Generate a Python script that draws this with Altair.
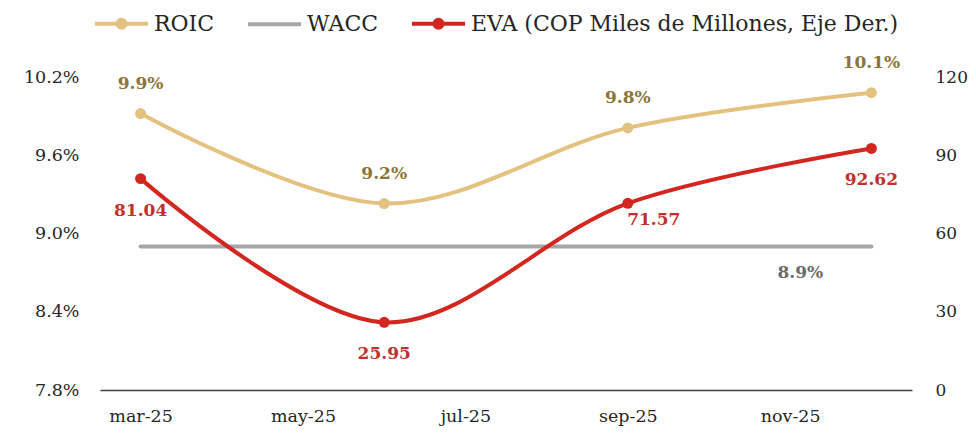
import altair as alt
import pandas as pd

# ---- data ----
months = [3, 6, 9, 12]                      # mar-25, jun-25, sep-25, dic-25
roic = [9.92, 9.23, 9.81, 10.08]            # %
wacc = [8.90, 8.90, 8.90, 8.90]             # %
eva = [81.04, 25.95, 71.57, 92.62]          # COP miles de millones
series_names = ["ROIC", "WACC", "EVA (COP Miles de Millones, Eje Der.)"]
tick_months = [3, 5, 7, 9, 11]
tick_labels = ["mar-25", "may-25", "jul-25", "sep-25", "nov-25"]
left_ticks = [7.8, 8.4, 9.0, 9.6, 10.2]
right_ticks = [0, 30, 60, 90, 120]

line_colors = ["#E3C27F", "#A6A6A6", "#D2261E"]
ROIC_LABEL = "#8B7539"
EVA_LABEL = "#C1302A"
WACC_LABEL = "#6B6B6B"
FONT = "DejaVu Serif"

rows = []
for m, r, w, e in zip(months, roic, wacc, eva):
    rows.append({"month": m, "series": series_names[0], "value": r, "label": f"{r:.1f}%"})
    rows.append({"month": m, "series": series_names[1], "value": w, "label": f"{w:.1f}%"})
    rows.append({"month": m, "series": series_names[2], "value": e, "label": f"{e:.2f}"})
df = pd.DataFrame(rows)

arr_lbl = "[" + ",".join(f"'{t}'" for t in tick_labels) + "]"
arr_m = "[" + ",".join(str(t) for t in tick_months) + "]"
x_label_expr = f"{arr_lbl}[indexof({arr_m}, datum.value)]"

x = alt.X(
    "month:Q",
    scale=alt.Scale(domain=[2.5, 12.5], nice=False, zero=False),
    axis=alt.Axis(values=tick_months, labelExpr=x_label_expr, title=None, grid=False,
                  ticks=False, domainColor="#404040", domainWidth=1.6,
                  labelFont=FONT, labelFontSize=17.5, labelColor="#262626",
                  labelPadding=17),
)

y_left = alt.Y(
    "value:Q",
    scale=alt.Scale(domain=[7.8, 10.2], nice=False, zero=False),
    axis=alt.Axis(values=left_ticks, labelExpr="format(datum.value, '.1f') + '%'",
                  orient="left", title=None, grid=False, ticks=False, domain=False,
                  labelFont=FONT, labelFontSize=17.5, labelColor="#262626",
                  labelPadding=21),
)

y_right = alt.Y(
    "value:Q",
    scale=alt.Scale(domain=[0, 120], nice=False, zero=False),
    axis=alt.Axis(values=right_ticks, orient="right", title=None, grid=False,
                  ticks=False, domain=False, labelFont=FONT, labelFontSize=17,
                  labelColor="#262626", labelPadding=23),
)

dot_path = "M-1,0H1M0.15,0A0.15,0.15,0,1,1,-0.15,0A0.15,0.15,0,1,1,0.15,0Z"

legend = alt.Legend(
    title=None, orient="none", legendX=-7, legendY=-82, direction="horizontal",
    symbolSize=2809, symbolStrokeWidth=4, symbolOpacity=1,
    labelFont=FONT, labelFontSize=22, labelColor="#262626", labelOffset=4,
    labelLimit=600, columnPadding=25,
)

color = alt.Color("series:N", scale=alt.Scale(domain=series_names, range=line_colors),
                  legend=legend)
shape = alt.Shape("series:N",
                  scale=alt.Scale(domain=series_names, range=[dot_path, "stroke", dot_path]),
                  legend=legend)

base = alt.Chart(df)
is_roic = alt.datum.series == series_names[0]
is_wacc = alt.datum.series == series_names[1]
is_eva = alt.datum.series == series_names[2]

left_lines = base.transform_filter(is_roic | is_wacc).mark_line(
    interpolate="catmull-rom", strokeWidth=4, strokeCap="round"
).encode(x=x, y=y_left, color=color)

roic_pts = base.transform_filter(is_roic).mark_point(
    filled=True, size=120, opacity=1, shape="circle"
).encode(x=x, y=y_left, color=color)

roic_txt = base.transform_filter(is_roic).mark_text(
    dy=-30, font=FONT, fontSize=17, fontWeight="bold", color=ROIC_LABEL
).encode(x=x, y=y_left, text="label:N")

wacc_txt = base.transform_filter(is_wacc & (alt.datum.month == months[-1])).mark_text(
    dx=-71, dy=26, font=FONT, fontSize=17, fontWeight="bold", color=WACC_LABEL
).encode(x=x, y=y_left, text="label:N")

left = alt.layer(left_lines, roic_pts, roic_txt, wacc_txt)

eva_line = base.transform_filter(is_eva).mark_line(
    interpolate="catmull-rom", strokeWidth=4, strokeCap="round"
).encode(x=x, y=y_right, color=color)

eva_pts = base.transform_filter(is_eva).mark_point(
    filled=True, size=120, opacity=1, shape="circle"
).encode(x=x, y=y_right, color=color)

eva_txt = base.transform_filter(is_eva & (alt.datum.month != months[2])).mark_text(
    dy=32, font=FONT, fontSize=17, fontWeight="bold", color=EVA_LABEL
).encode(x=x, y=y_right, text="label:N")

eva_txt_sep = base.transform_filter(is_eva & (alt.datum.month == months[2])).mark_text(
    dx=26, dy=17, font=FONT, fontSize=17, fontWeight="bold", color=EVA_LABEL
).encode(x=x, y=y_right, text="label:N")

right = alt.layer(eva_line, eva_pts, eva_txt, eva_txt_sep)

# invisible layer carrying the legend shapes (line + dot / plain line)
legend_layer = base.mark_point(filled=True, opacity=0).encode(
    x=x, color=color, shape=shape
)

chart = alt.layer(left, right, legend_layer).resolve_scale(y="independent").properties(
    width=812, height=313,
    autosize=alt.AutoSizeParams(type="none"),
    padding={"left": 92, "top": 69, "right": 56, "bottom": 36},
    background="white",
).configure_view(strokeOpacity=0)

chart.save("out.html", embed_options={"renderer": "svg", "actions": False})
